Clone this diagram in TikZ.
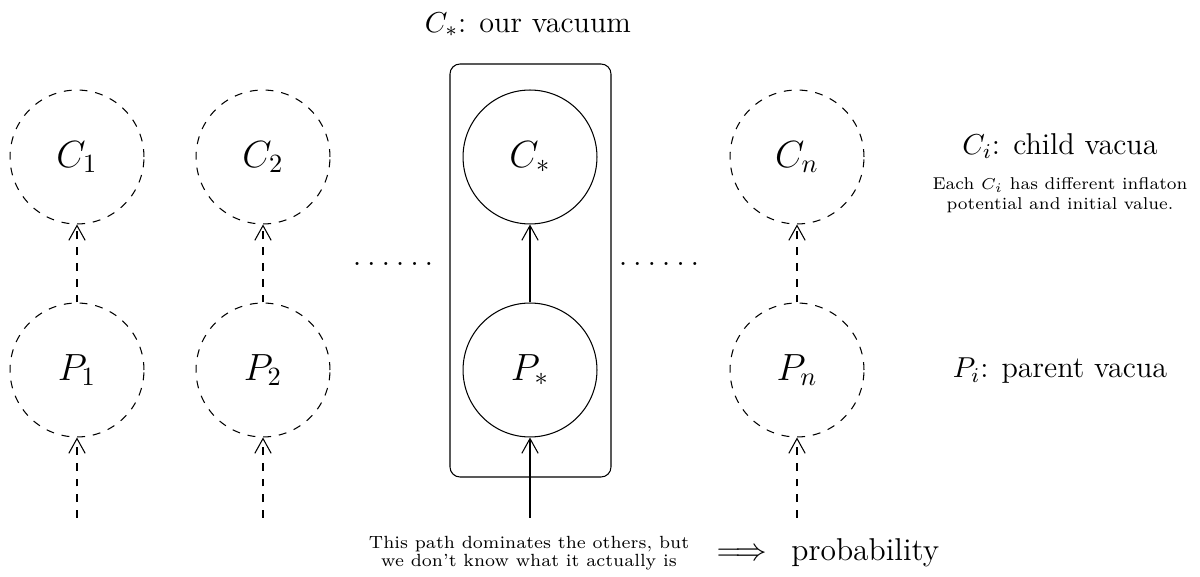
\documentclass[tikz,border=0pt]{standalone}
\usetikzlibrary{arrows.meta}
\newcommand\sixdots{.\kern2.2pt.\kern2.2pt.\kern2.2pt.\kern2.2pt.\kern2.2pt.}
\begin{document}
\begin{tikzpicture}[x=0.38pt,y=-0.38pt,
  vac/.style={circle,draw,minimum size=50.9pt,inner sep=0pt,font=\Large},
  hyp/.style={vac,dashed},
  tip/.style={-{Straight Barb[length=5.6pt,width=6.2pt]}},
  lbl/.style={font=\fontsize{11.45}{13}\selectfont,inner sep=0pt},
  note/.style={align=center,inner sep=0pt},
  dotrow/.style={font=\large,inner sep=0pt,anchor=base}]
\useasboundingbox (0,0) rectangle (1200,577);
% columns
\node[hyp] (C1) at (77,157) {$C_1$};
\node[hyp] (P1) at (77,370) {$P_1$};
\node[hyp] (C2) at (263,157) {$C_2$};
\node[hyp] (P2) at (263,370) {$P_2$};
\node[vac] (Cs) at (530,157) {$C_*$};
\node[vac] (Ps) at (530,370) {$P_*$};
\node[hyp] (Cn) at (797,157) {$C_n$};
\node[hyp] (Pn) at (797,370) {$P_n$};
\coordinate (S1) at (77,518);
\coordinate (S2) at (263,518);
\coordinate (Ss) at (530,518);
\coordinate (Sn) at (797,518);
% box
\draw[rounded corners=3.8pt] (450,64) rectangle (611,477);
% arrows
\draw[tip,dashed] (P1) -- (C1);
\draw[tip,dashed] (P2) -- (C2);
\draw[tip] (Ps) -- (Cs);
\draw[tip,dashed] (Pn) -- (Cn);
\draw[tip,dashed] (S1) -- (P1);
\draw[tip,dashed] (S2) -- (P2);
\draw[tip] (Ss) -- (Ps);
\draw[tip,dashed] (Sn) -- (Pn);
% dots
\node[dotrow] (dl) at (393,266) {\sixdots};
\node[dotrow] (dr) at (659,266) {\sixdots};
% labels
\node[lbl] (top) at (528,25) {$C_*$: our vacuum};
\node[lbl] (cl) at (1060,146) {$C_i$: child vacua};
\node[note,font=\fontsize{6.5}{7.6}\selectfont] (cn) at (1060,195) {Each $C_i$ has different inflaton\\potential and initial value.};
\node[lbl] (pl) at (1060,371) {$P_i$: parent vacua};
\node[note,font=\fontsize{6.7}{6.7}\selectfont] (bn) at (529,553) {This path dominates the others, but\\we don't know what it actually is};
\node[font=\large,inner sep=0pt,anchor=west] (pr) at (716,553) {$\Longrightarrow$\hspace{9.3pt}probability};
\end{tikzpicture}
\end{document}
